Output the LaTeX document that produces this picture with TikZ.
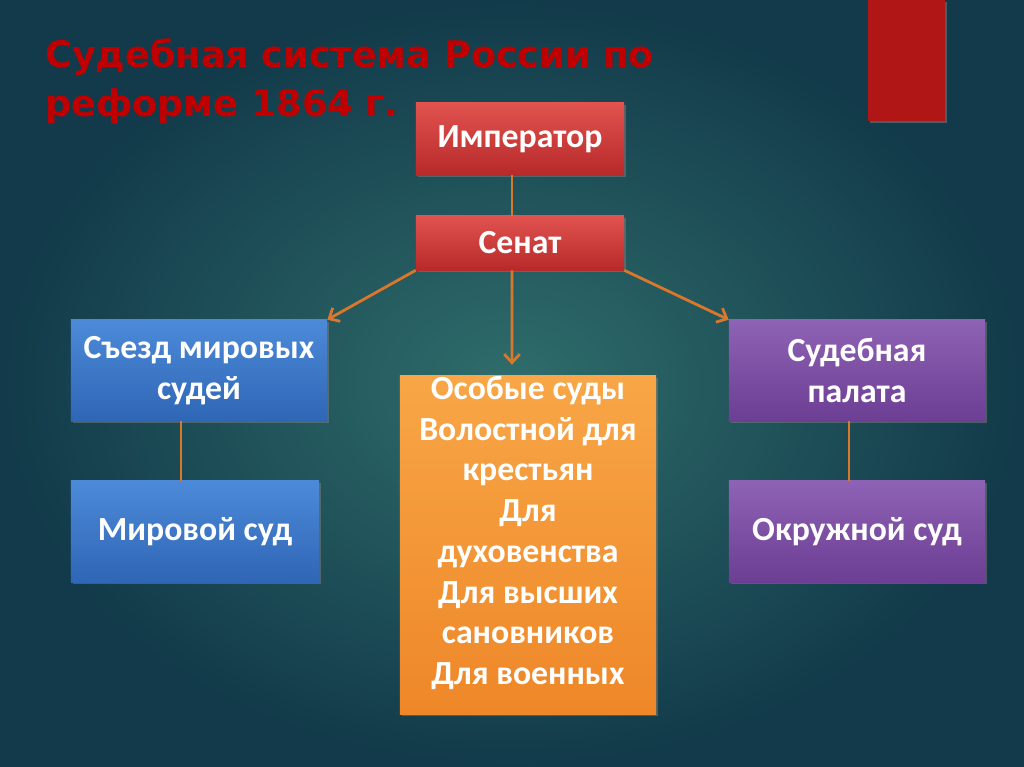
\documentclass[tikz,border=0pt]{standalone}
\usepackage{fontspec}
\setmainfont{Carlito}
\newfontfamily\titlefont{DejaVu Sans}
\usetikzlibrary{arrows.meta,shadows}
\definecolor{bgin}{HTML}{2F6D6B}
\definecolor{bgout}{HTML}{123A4A}
\definecolor{titlered}{HTML}{C00000}
\definecolor{barred}{HTML}{B01616}
\definecolor{linkcol}{HTML}{D9772B}
\definecolor{redtop}{HTML}{E0534F}
\definecolor{redbot}{HTML}{B82A2A}
\definecolor{bluetop}{HTML}{4C8AD8}
\definecolor{bluebot}{HTML}{2F66B6}
\definecolor{orangetop}{HTML}{F8A647}
\definecolor{orangebot}{HTML}{EE8728}
\definecolor{violettop}{HTML}{8E62B4}
\definecolor{violetbot}{HTML}{6C3E94}
\newcommand\boxfont{\bfseries\fontsize{24}{29}\selectfont}

\begin{document}
\begin{tikzpicture}[x=0.025cm, y=-0.025cm,
    box/.style={text=white, font=\boxfont, align=center, inner sep=2pt,
      drop shadow={opacity=0.5, shadow xshift=1.5pt, shadow yshift=-1.5pt}},
    redbox/.style={box, top color=redtop, bottom color=redbot},
    bluebox/.style={box, top color=bluetop, bottom color=bluebot},
    orangebox/.style={box, top color=orangetop, bottom color=orangebot},
    violetbox/.style={box, top color=violettop, bottom color=violetbot},
    link/.style={draw=linkcol, line width=2pt},
    arrow/.style={link, -{Straight Barb[length=6pt, width=11pt]}}
  ]
    % background
    \shade[inner color=bgin, outer color=bgout] (0,0) rectangle (1024,767);
    \useasboundingbox (0,0) rectangle (1024,767);
    \fill[barred, drop shadow={opacity=0.5, shadow xshift=1.5pt, shadow yshift=-1.5pt}] (868,0) rectangle (945,121);

    \node[anchor=north west, text=titlered, align=left, inner sep=0pt,
      font=\titlefont\bfseries\fontsize{26}{35}\selectfont] (title) at (45,38)
      {Судебная система России по\\реформе 1864 г.};

    % boxes
    \node[redbox, minimum width=5.2cm, minimum height=1.8cm] (imperator) at (520,139) {Император};
    \node[redbox, minimum width=5.2cm, minimum height=1.35cm] (senat) at (520,243) {Сенат};
    \node[bluebox, minimum width=6.4cm, minimum height=2.525cm] (sezd) at (199,370.5) {Съезд мировых\\судей};
    \node[bluebox, minimum width=6.2cm, minimum height=2.525cm] (mirsud) at (195,531.5) {Мировой суд};
    \node[orangebox, minimum width=6.4cm, minimum height=8.45cm] (osobye) at (528,545) {};
    \node[text=white, font=\boxfont, align=center] (osobyetext) at ([yshift=0.3cm]osobye.center)
      {Особые суды\\Волостной для\\крестьян\\Для\\духовенства\\Для высших\\сановников\\Для военных};
    \node[violetbox, minimum width=6.4cm, minimum height=2.525cm] (palata) at (857,370.5) {Судебная\\палата};
    \node[violetbox, minimum width=6.4cm, minimum height=2.525cm] (okrsud) at (857,531.5) {Окружной суд};

    % connectors
    \draw[link] ([xshift=-0.2cm]imperator.south) -- ([xshift=-0.2cm]senat.north);
    \draw[arrow] (senat.south west) -- (sezd.north east);
    \draw[arrow] (senat.south east) -- (palata.north west);
    \draw[arrow, shorten >=0.275cm] ([xshift=-0.2cm]senat.south) -- ([xshift=-0.4cm]osobye.north);
    \draw[link] ([xshift=-0.45cm]sezd.south) -- ([xshift=-0.45cm]sezd.south |- mirsud.north);
    \draw[link] ([xshift=-0.2cm]palata.south) -- ([xshift=-0.2cm]palata.south |- okrsud.north);

  \end{tikzpicture}
\end{document}
